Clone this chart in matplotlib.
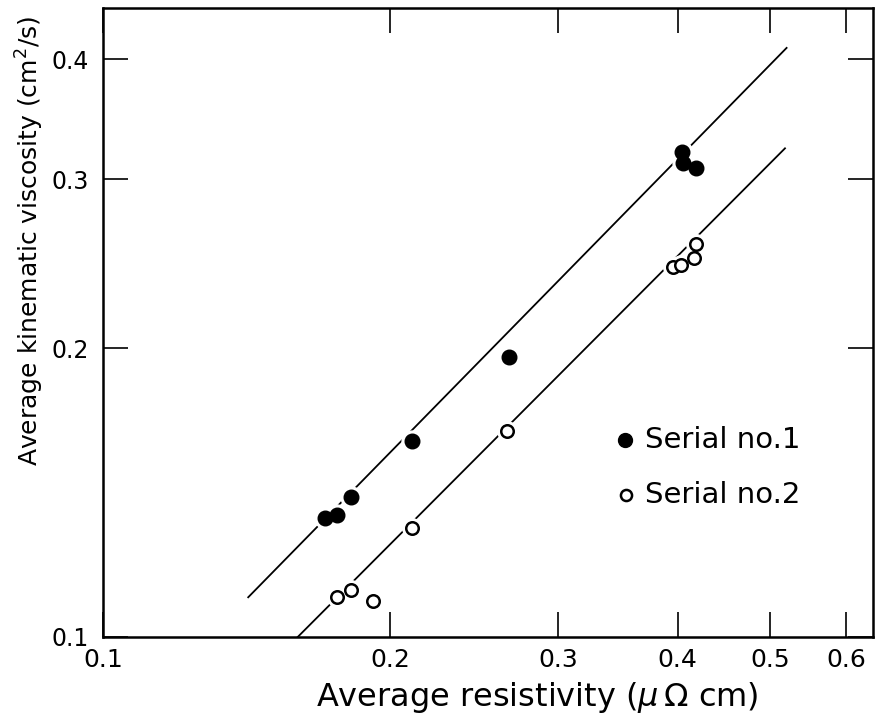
import matplotlib
matplotlib.use("Agg")
import matplotlib.pyplot as plt
from matplotlib.ticker import FixedLocator, FixedFormatter, NullLocator

# Data
res_1 = [0.171, 0.176, 0.182, 0.211, 0.266, 0.404, 0.405, 0.418]
visc_1 = [0.133, 0.134, 0.140, 0.160, 0.196, 0.320, 0.312, 0.308]
res_2 = [0.176, 0.182, 0.192, 0.211, 0.265, 0.395, 0.403, 0.416, 0.418]
visc_2 = [0.110, 0.112, 0.109, 0.130, 0.164, 0.243, 0.244, 0.248, 0.257]

# fitted lines (end points)
fit1_x = [0.142, 0.520]
fit1_y = [0.110, 0.411]
fit2_x = [0.160, 0.518]
fit2_y = [0.100, 0.323]

xticks = [0.1, 0.2, 0.3, 0.4, 0.5, 0.6]
xticklabels = ["0.1", "0.2", "0.3", "0.4", "0.5", "0.6"]
yticks = [0.1, 0.2, 0.3, 0.4]
yticklabels = ["0.1", "0.2", "0.3", "0.4"]

plt.rcParams['font.family'] = ['DejaVu Sans']

fig = plt.figure(figsize=(8.86, 7.26), dpi=100)
ax = fig.add_axes([0.116, 0.1226, 0.869, 0.866])
ax.set_xscale('log')
ax.set_yscale('log')
ax.set_xlim(0.1, 0.64)
ax.set_ylim(0.1, 0.452)

# fit lines
ax.plot(fit1_x, fit1_y, color='black', lw=1.3, zorder=2)
ax.plot(fit2_x, fit2_y, color='black', lw=1.3, zorder=2)

# white halos to break the lines around the points
ax.plot(res_1, visc_1, 'o', color='white', ms=15, zorder=3)
ax.plot(res_2, visc_2, 'o', color='white', ms=14, zorder=3)

ax.plot(res_1, visc_1, 'o', color='black', ms=10.5, zorder=4)
ax.plot(res_2, visc_2, 'o', mfc='white', mec='black', mew=1.8, ms=9, zorder=4)

# legend drawn as text and markers
ax.plot([0.352], [0.1604], 'o', color='black', ms=10, zorder=4)
ax.plot([0.353], [0.1406], 'o', mfc='white', mec='black', mew=1.8, ms=8, zorder=4)
ax.text(0.370, 0.1604, "Serial no.1", fontsize=21, va='center', ha='left')
ax.text(0.370, 0.1406, "Serial no.2", fontsize=21, va='center', ha='left')

ax.xaxis.set_major_locator(FixedLocator(xticks))
ax.xaxis.set_major_formatter(FixedFormatter(xticklabels))
ax.yaxis.set_major_locator(FixedLocator(yticks))
ax.yaxis.set_major_formatter(FixedFormatter(yticklabels))
ax.xaxis.set_minor_locator(NullLocator())
ax.yaxis.set_minor_locator(NullLocator())

ax.tick_params(which='major', direction='in', length=18, width=1.2,
               top=True, right=True)
ax.tick_params(axis='x', labelsize=18, pad=8)
ax.tick_params(axis='y', labelsize=17, pad=10)
for s in ax.spines.values():
    s.set_linewidth(1.8)

ax.set_xlabel(r"Average resistivity ($\mu\,\Omega$ cm)", fontsize=23, labelpad=6)
ax.xaxis.label.set_x(0.564)
ax.set_ylabel(r"Average kinematic viscosity (cm$^2$/s)", fontsize=18, labelpad=4)
ax.yaxis.label.set_y(0.63)

fig.savefig("out.png", dpi=100)
